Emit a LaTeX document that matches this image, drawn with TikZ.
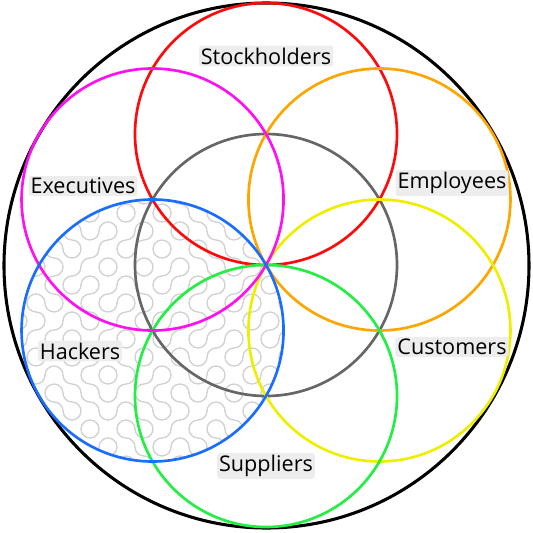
\documentclass[tikz,border=0pt]{standalone}
\usepackage{fontspec}
\setmainfont{Open Sans}
\definecolor{cRed}{HTML}{FF0A0A}
\definecolor{cOrange}{HTML}{FFA500}
\definecolor{cYellow}{HTML}{EEEE00}
\definecolor{cGreen}{HTML}{22EE44}
\definecolor{cBlue}{HTML}{1A6EFF}
\definecolor{cMagenta}{HTML}{FF10F0}
\definecolor{cGray}{HTML}{666666}
\begin{document}
\begin{tikzpicture}[x=0.75pt, y=-0.75pt,
    ring/.style={line width=2pt},
    tag/.style={fill=black!7, rounded corners=2pt, inner sep=1.5pt, font=\fontsize{16.2}{18}\selectfont},
    tile/.style={draw=black!18, line width=1pt}]
  \useasboundingbox (0,0) rectangle (533,533);

  % Truchet pattern inside the Hackers circle
  \begin{scope}
    \clip (152.5,330.5) circle[radius=131];
    \pgfmathsetseed{11}
    \foreach \i in {0,...,15} {
      \foreach \j in {0,...,15} {
        \pgfmathrandominteger{\r}{0}{1}
        \pgfmathsetmacro{\x}{18+18*\i}
        \pgfmathsetmacro{\y}{195+18*\j}
        \ifnum\r=0
          \draw[tile] (\x+9,\y) arc[start angle=0, end angle=90, radius=9];
          \draw[tile] (\x+9,\y+18) arc[start angle=180, end angle=270, radius=9];
        \else
          \draw[tile] (\x+9,\y) arc[start angle=180, end angle=90, radius=9];
          \draw[tile] (\x+9,\y+18) arc[start angle=0, end angle=-90, radius=9];
        \fi
      }
    }
  \end{scope}

  % outer circle
  \draw[line width=2.3pt] (266.5,265.5) circle[radius=262.5];

  % inner circle and the six stakeholder circles
  \draw[ring, cGray] (266,265) circle[radius=131];
  \foreach \ang/\col in {90/cRed, 30/cOrange, -30/cYellow, -90/cGreen, 150/cMagenta, -150/cBlue}
    \draw[ring, \col] ({266+131*cos(\ang)},{265-131*sin(\ang)}) circle[radius=131];

  % labels
  \node[tag] (stock) at (266,56) {Stockholders};
  \node[tag] (exec) at (83,186) {Executives};
  \node[tag] (empl) at (452,183) {Employees};
  \node[tag] (cust) at (452,347) {Customers};
  \node[tag] (hack) at (80,351) {Hackers};
  \node[tag] (supp) at (266,466) {Suppliers};

\end{tikzpicture}
\end{document}
